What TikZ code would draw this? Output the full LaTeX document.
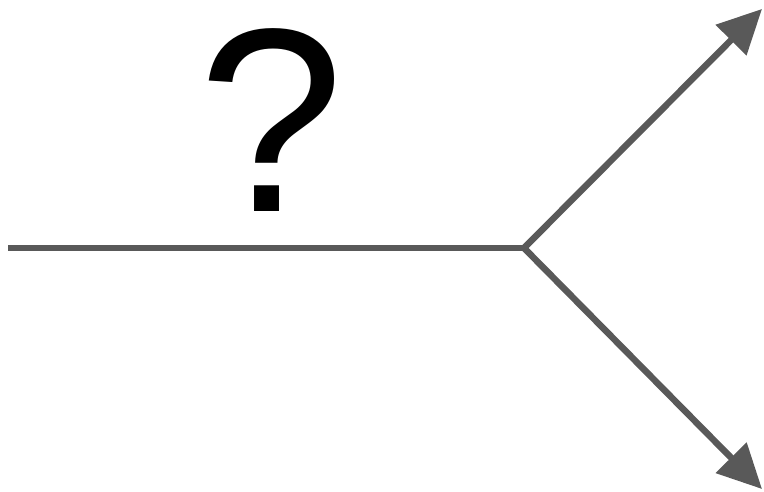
\documentclass[tikz,border=0pt]{standalone}
\usepackage{fontspec}
\setmainfont{Liberation Sans}
\usetikzlibrary{arrows.meta}
\definecolor{linegray}{HTML}{595959}

\begin{document}
\begin{tikzpicture}[x=1pt, y=-1pt,
    branch/.style={draw=linegray, line width=6.5pt},
    arrowbranch/.style={branch, -{Triangle[length=44pt, width=42pt]}}]
    % Bounding box
    \useasboundingbox (0, 0) rectangle (764, 492);

    % Points of the fork
    \coordinate (start) at (8, 248);
    \coordinate (fork) at (524, 248);
    \coordinate (uptip) at (762, 9);
    \coordinate (downtip) at (762, 489);

    % Incoming line and the two branches
    \draw[branch] (start) -- (fork);
    \draw[arrowbranch] (fork) -- (uptip);
    \draw[arrowbranch] (fork) -- (downtip);

    % Label
    \node[anchor=base, inner sep=0pt] (question) at (271, 212)
        {\fontsize{262}{262}\selectfont ?};
\end{tikzpicture}
\end{document}
